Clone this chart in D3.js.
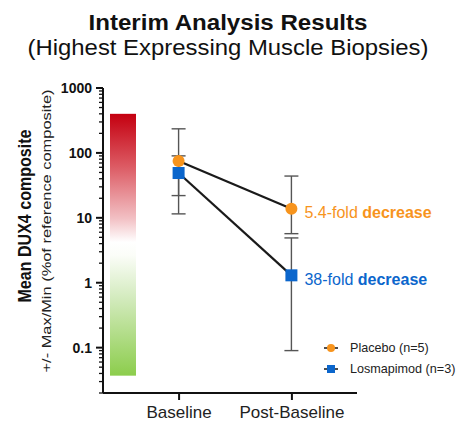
<!DOCTYPE html>
<html>
<head>
<meta charset="utf-8">
<script src="https://cdn.jsdelivr.net/npm/d3@7"></script>
<style>
  html, body { margin: 0; padding: 0; background: #fff; }
  svg { display: block; font-family: "Liberation Sans", Arial, sans-serif; }
</style>
</head>
<body>
<div id="chart"></div>
<script>
// =========================================================
//  Interim analysis — DUX4 composite, baseline vs post-baseline
//  log y axis, max/min whiskers, red→green colour bar
// =========================================================
const CATEGORIES = ['Baseline', 'Post-Baseline'];
const SERIES = ['Placebo (n=5)', 'Losmapimod (n=3)'];
const MEANS = {
  'Placebo (n=5)':    [75, 13.8],
  'Losmapimod (n=3)': [49, 1.3],
};
const MAXES = {
  'Placebo (n=5)':    [235, 44],
  'Losmapimod (n=3)': [90, 4.9],
};
const MINS = {
  'Placebo (n=5)':    [11.5, 5.7],
  'Losmapimod (n=3)': [22, 0.09],
};
const FOLD_LABELS = ['5.4-fold', '38-fold'];
const Y_TICKS = [0.1, 1, 10, 100, 1000];
const Y_DOMAIN = [0.02, 1000];
const BAR_RANGE = [0.037, 400];     // extent of the colour bar in data units
const COLORS = { 'Placebo (n=5)': '#f7941d', 'Losmapimod (n=3)': '#0b66cc' };

const W = 459, H = 426;
const svg = d3.select('#chart').append('svg')
  .attr('width', W).attr('height', H).attr('viewBox', `0 0 ${W} ${H}`);

const m = { l: 103, t: 88, b: 393 };
const y = d3.scaleLog().domain(Y_DOMAIN).range([m.b, m.t]);
const x = d3.scalePoint().domain(CATEGORIES).range([103, 367]).padding(0.67);

// titles (source art is a bit wide, so stretch to its measured width)
svg.append('text').attr('x', 228).attr('y', 30).attr('text-anchor', 'middle')
  .attr('font-size', 21.5).attr('font-weight', 700).attr('fill', '#111')
  .attr('textLength', 279).attr('lengthAdjust', 'spacingAndGlyphs')
  .text('Interim Analysis Results');
svg.append('text').attr('x', 228).attr('y', 55).attr('text-anchor', 'middle')
  .attr('font-size', 22).attr('fill', '#111')
  .attr('textLength', 401).attr('lengthAdjust', 'spacingAndGlyphs')
  .text('(Highest Expressing Muscle Biopsies)');

// y axis titles
svg.append('text').attr('transform', `translate(31,216) rotate(-90)`)
  .attr('text-anchor', 'middle').attr('font-size', 19).attr('font-weight', 700).attr('fill', '#111')
  .attr('textLength', 173).attr('lengthAdjust', 'spacingAndGlyphs')
  .text('Mean DUX4 composite');
svg.append('text').attr('transform', `translate(51,231) rotate(-90)`)
  .attr('text-anchor', 'middle').attr('font-size', 13.5).attr('fill', '#222')
  .attr('textLength', 283).attr('lengthAdjust', 'spacingAndGlyphs')
  .text('+/- Max/Min (%of reference composite)');

// colour bar
const defs = svg.append('defs');
const grad = defs.append('linearGradient').attr('id', 'bar-grad')
  .attr('x1', 0).attr('x2', 0).attr('y1', 0).attr('y2', 1);
[
  [0, '#c40010'], [0.2, '#dc5a63'], [0.4, '#f2c0c4'], [0.49, '#ffffff'],
  [0.54, '#fbfdf8'], [0.7, '#d4ebbf'], [1, '#8ccd4c'],
].forEach(([o, c]) => grad.append('stop').attr('offset', o).attr('stop-color', c));
svg.append('rect')
  .attr('x', 110).attr('width', 26)
  .attr('y', y(BAR_RANGE[1])).attr('height', y(BAR_RANGE[0]) - y(BAR_RANGE[1]))
  .attr('fill', 'url(#bar-grad)');

// y axis: major + minor ticks
const minor = [];
for (let e = -2; e < 3; e++) {
  for (let k = 1; k < 10; k++) {
    const v = k * Math.pow(10, e);
    if (v >= Y_DOMAIN[0] && v <= Y_DOMAIN[1] && !Y_TICKS.includes(v)) minor.push(v);
  }
}
const gY = svg.append('g').attr('transform', `translate(${m.l},0)`);
gY.append('line').attr('x1', 0).attr('x2', 0).attr('y1', m.t).attr('y2', m.b)
  .attr('stroke', '#111').attr('stroke-width', 2);
gY.selectAll('line.minor').data(minor).join('line').attr('class', 'minor')
  .attr('x1', -4).attr('x2', 0).attr('y1', d => y(d)).attr('y2', d => y(d))
  .attr('stroke', '#111').attr('stroke-width', 1.3);
gY.selectAll('line.major').data(Y_TICKS).join('line').attr('class', 'major')
  .attr('x1', -7).attr('x2', 0).attr('y1', d => y(d)).attr('y2', d => y(d))
  .attr('stroke', '#111').attr('stroke-width', 2);
gY.selectAll('text').data(Y_TICKS).join('text')
  .attr('x', -11).attr('y', d => y(d)).attr('dy', '0.35em')
  .attr('text-anchor', 'end').attr('font-size', 14).attr('font-weight', 700).attr('fill', '#111')
  .text(d => d3.format('~g')(d));

// x axis
const gX = svg.append('g').attr('transform', `translate(0,${m.b})`);
gX.call(d3.axisBottom(x).tickSize(7).tickPadding(6))
  .attr('font-family', '"Liberation Sans", Arial, sans-serif')
  .attr('font-size', 17).attr('color', '#111');
gX.select('.domain').remove();
gX.selectAll('.tick line').attr('stroke-width', 2);
gX.selectAll('.tick text').attr('fill', '#222');
gX.append('line').attr('x1', 103).attr('x2', 357).attr('stroke', '#111').attr('stroke-width', 2);

// whiskers (max/min)
const whisk = [];
SERIES.forEach(s => CATEGORIES.forEach((c, i) => whisk.push({ s, c, hi: MAXES[s][i], lo: MINS[s][i] })));
const gW = svg.append('g');
whisk.forEach(d => {
  const cx = x(d.c);
  gW.append('line').attr('x1', cx).attr('x2', cx).attr('y1', y(d.hi)).attr('y2', y(d.lo))
    .attr('stroke', '#555').attr('stroke-width', 1.4);
  [d.hi, d.lo].forEach(v => gW.append('line')
    .attr('x1', cx - 7).attr('x2', cx + 7).attr('y1', y(v)).attr('y2', y(v))
    .attr('stroke', '#555').attr('stroke-width', 1.4));
});

// lines + markers
const line = d3.line().x((d, i) => x(CATEGORIES[i])).y(d => y(d));
SERIES.forEach(s => {
  svg.append('path').attr('d', line(MEANS[s])).attr('fill', 'none')
    .attr('stroke', '#1a1a1a').attr('stroke-width', 2.2);
});
const drawMarker = (g, s, cx, cy, r) => {
  if (s === SERIES[0]) g.append('circle').attr('cx', cx).attr('cy', cy).attr('r', r).attr('fill', COLORS[s]);
  else g.append('rect').attr('x', cx - r).attr('y', cy - r).attr('width', 2 * r).attr('height', 2 * r).attr('fill', COLORS[s]);
};
SERIES.forEach(s => MEANS[s].forEach((v, i) => drawMarker(svg, s, x(CATEGORIES[i]), y(v), 6)));

// fold-change labels
SERIES.forEach((s, k) => {
  const t = svg.append('text').attr('x', x(CATEGORIES[1]) + 13).attr('y', y(MEANS[s][1]) + 4)
    .attr('dy', '0.35em').attr('font-size', 16).attr('fill', COLORS[s]);
  t.append('tspan').text(FOLD_LABELS[k] + ' ');
  t.append('tspan').attr('font-weight', 700).text('decrease');
});

// legend
SERIES.forEach((s, k) => {
  const ly = 348 + k * 21;
  const g = svg.append('g');
  g.append('line').attr('x1', 324).attr('x2', 338).attr('y1', ly).attr('y2', ly)
    .attr('stroke', '#222').attr('stroke-width', 1.6);
  drawMarker(g, s, 331, ly, 4);
  g.append('text').attr('x', 350).attr('y', ly).attr('dy', '0.35em')
    .attr('font-size', 12.6).attr('fill', '#222').text(s);
});
</script>
</body>
</html>
